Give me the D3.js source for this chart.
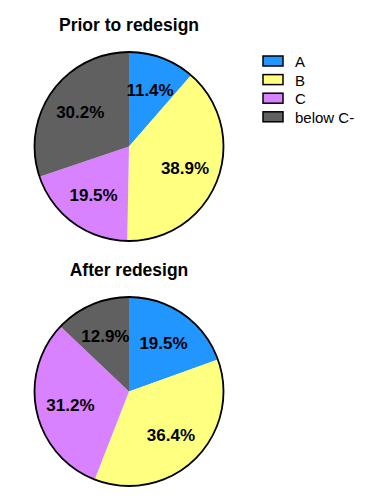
<!DOCTYPE html>
<html>
<head>
<meta charset="utf-8">
<script src="https://cdn.jsdelivr.net/npm/d3@7"></script>
<style>
  body { margin: 0; background: #fff; }
  text { font-family: "Liberation Sans", Arial, sans-serif; }
</style>
</head>
<body>
<div id="chart"></div>
<script>
// ── Data ───────────────────────────────────────────────────────────────────
const grades = ["A", "B", "C", "below C-"];
const priorValues = [11.4, 38.9, 19.5, 30.2];
const afterValues = [19.5, 36.4, 31.2, 12.9];
const titles = ["Prior to redesign", "After redesign"];
const colors = ["#2196ff", "#ffff80", "#d982ff", "#606060"];

// ── SVG ────────────────────────────────────────────────────────────────────
const width = 372;
const height = 498;

const svg = d3
  .select("#chart")
  .append("svg")
  .attr("width", width)
  .attr("height", height);

const colorScale = d3.scaleOrdinal().domain(grades).range(colors);

const radius = 94.5;
const pie = d3.pie().sort(null).value((d) => d.value);
const arc = d3.arc().innerRadius(0).outerRadius(radius);
const labelArc = d3.arc().innerRadius(60).outerRadius(60);

// ── Pies ───────────────────────────────────────────────────────────────────
function drawPie(values, title, cx, cy) {
  const data = grades.map((g, i) => ({ grade: g, value: values[i] }));

  svg
    .append("text")
    .attr("x", cx)
    .attr("y", cy - radius - 21)
    .attr("text-anchor", "middle")
    .style("font-size", "17.5px")
    .style("font-weight", "bold")
    .text(title);

  const g = svg.append("g").attr("transform", `translate(${cx},${cy})`);

  g.selectAll("path")
    .data(pie(data))
    .join("path")
    .attr("d", arc)
    .attr("fill", (d) => colorScale(d.data.grade));

  g.append("circle")
    .attr("r", radius)
    .attr("fill", "none")
    .attr("stroke", "#000")
    .attr("stroke-width", 1.8);

  g.selectAll(".label")
    .data(pie(data))
    .join("text")
    .attr("class", "label")
    .attr("transform", (d) => `translate(${labelArc.centroid(d)})`)
    .attr("dy", "0.36em")
    .attr("text-anchor", "middle")
    .style("font-size", "17px")
    .style("font-weight", "bold")
    .text((d) => `${d.data.value.toFixed(1)}%`);
}

drawPie(priorValues, titles[0], 129, 146.5);
drawPie(afterValues, titles[1], 129, 391.5);

// ── Legend ─────────────────────────────────────────────────────────────────
const legend = svg.append("g").attr("transform", "translate(263,56)");

grades.forEach((grade, i) => {
  const row = legend.append("g").attr("transform", `translate(0,${i * 18.6})`);

  row
    .append("rect")
    .attr("width", 20)
    .attr("height", 10)
    .attr("fill", colorScale(grade))
    .attr("stroke", "#000")
    .attr("stroke-width", 1.5);

  row
    .append("text")
    .attr("x", 32)
    .attr("y", 11)
    .style("font-size", "15px")
    .text(grade);
});
</script>
</body>
</html>
